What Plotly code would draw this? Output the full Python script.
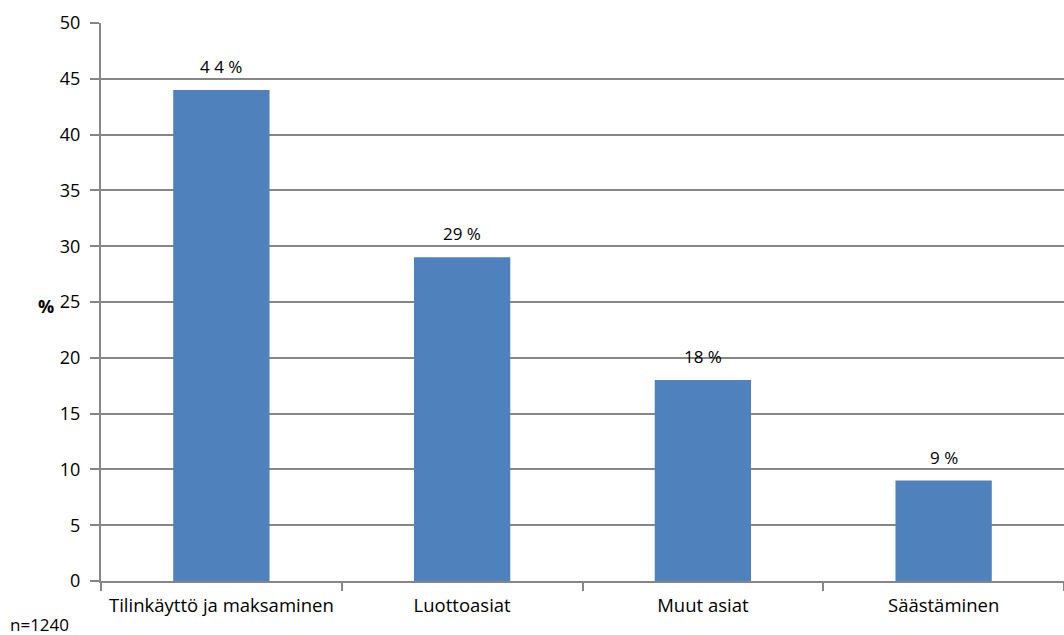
import plotly.graph_objects as go

categories = ["Tilinkäyttö ja maksaminen", "Luottoasiat", "Muut asiat", "Säästäminen"]
values = [44, 29, 18, 9]
labels = ["4 4 %", "29 %", "18 %", "9 %"]
y_ticks = [0, 5, 10, 15, 20, 25, 30, 35, 40, 45, 50]

FONT = "Open Sans, Calibri, sans-serif"
GRID = "#868686"

W, H = 1064, 635
ML, MR, MT, MB = 101, 0, 23, 54

fig = go.Figure(
    go.Bar(
        x=categories,
        y=values,
        marker=dict(color="#4F81BD", line=dict(width=0)),
        width=0.4,
        hoverinfo="x+y",
    )
)

# value labels above each bar
annotations = [
    dict(x=c, y=v, text=t, xref="x", yref="y", showarrow=False,
         yanchor="bottom", yshift=10, font=dict(family=FONT, size=17, color="#000000"))
    for c, v, t in zip(categories, values, labels)
]


def px_to_paper(px, py):
    return (px - ML) / (W - ML - MR), (H - MB - py) / (H - MT - MB)


ax, ay = px_to_paper(36, 306)
annotations.append(dict(text="<b>%</b>", x=ax, y=ay, xref="paper", yref="paper",
                        showarrow=False, font=dict(family=FONT, size=18, color="#000000")))
nx, ny = px_to_paper(8, 624)
annotations.append(dict(text="n=1240", x=nx, y=ny, xref="paper", yref="paper",
                        showarrow=False, xanchor="left", yanchor="middle",
                        font=dict(family=FONT, size=17, color="#000000")))

fig.update_layout(
    width=W,
    height=H,
    margin=dict(l=ML, r=MR, t=MT, b=MB),
    paper_bgcolor="white",
    plot_bgcolor="white",
    showlegend=False,
    font=dict(family=FONT, size=18, color="#000000"),
    xaxis=dict(
        showline=True,
        linecolor=GRID,
        linewidth=2,
        ticks="outside",
        tickson="boundaries",
        ticklen=8,
        tickwidth=2,
        tickcolor=GRID,
        showgrid=False,
        tickfont=dict(family=FONT, size=18.5),
        ticklabelstandoff=7,
    ),
    yaxis=dict(
        range=[0, 50],
        tickvals=y_ticks,
        showline=True,
        linecolor=GRID,
        linewidth=2,
        ticks="outside",
        ticklen=9,
        tickwidth=2,
        tickcolor=GRID,
        showgrid=True,
        gridcolor=GRID,
        gridwidth=2,
        zeroline=False,
        tickfont=dict(family=FONT, size=18),
        ticklabelstandoff=6,
    ),
    annotations=annotations,
)

fig.write_html("out.html")
